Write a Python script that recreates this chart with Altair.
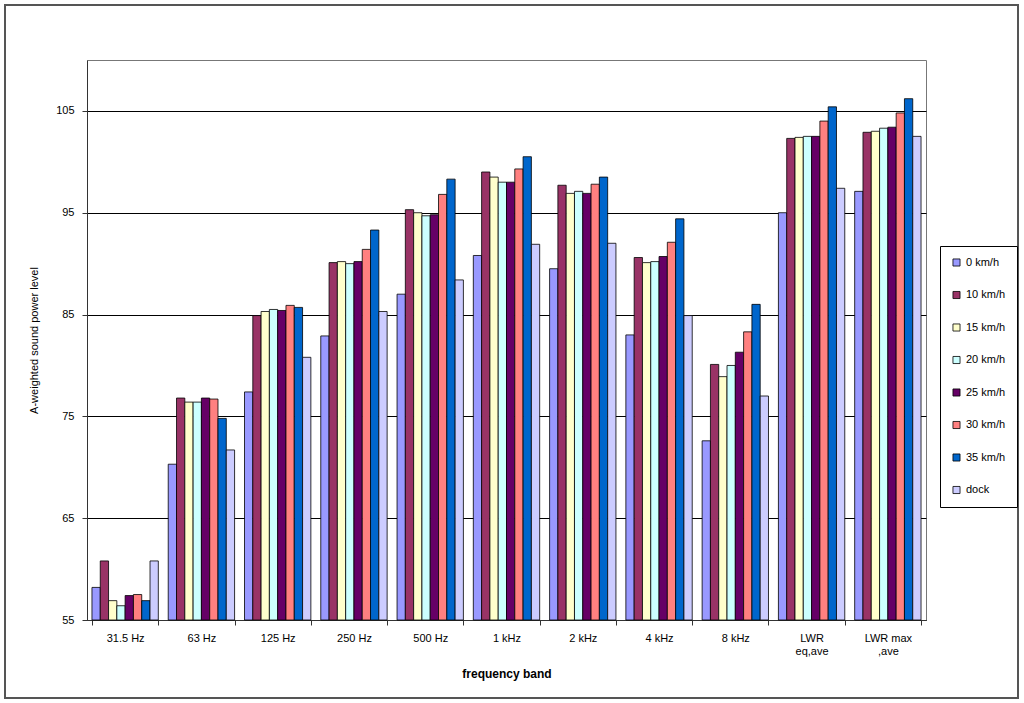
import altair as alt
import pandas as pd

categories = ["31.5 Hz", "63 Hz", "125 Hz", "250 Hz", "500 Hz", "1 kHz", "2 kHz",
              "4 kHz", "8 kHz", "LWR eq,ave", "LWR max,ave"]
series = ["0 km/h", "10 km/h", "15 km/h", "20 km/h", "25 km/h", "30 km/h", "35 km/h", "dock"]
colors = ["#9999FF", "#993366", "#FFFFCC", "#CCFFFF", "#660066", "#FF8080", "#0066CC", "#CCCCFF"]

v_0 = [58.2, 70.3, 77.4, 82.9, 87.0, 90.8, 89.5, 83.0, 72.6, 95.0, 97.1]
v_10 = [60.8, 76.8, 84.9, 90.1, 95.3, 99.0, 97.7, 90.6, 80.1, 102.3, 102.9]
v_15 = [56.9, 76.4, 85.3, 90.2, 95.0, 98.5, 96.9, 90.1, 78.9, 102.4, 103.0]
v_20 = [56.4, 76.4, 85.5, 90.0, 94.7, 98.0, 97.1, 90.2, 80.0, 102.5, 103.3]
v_25 = [57.4, 76.8, 85.4, 90.2, 94.8, 98.0, 96.9, 90.7, 81.3, 102.5, 103.4]
v_30 = [57.5, 76.7, 85.9, 91.4, 96.8, 99.3, 97.8, 92.1, 83.3, 104.0, 104.8]
v_35 = [56.9, 74.8, 85.7, 93.3, 98.3, 100.5, 98.5, 94.4, 86.0, 105.4, 106.2]
v_dock = [60.8, 71.7, 80.8, 85.3, 88.4, 91.9, 92.0, 84.9, 77.0, 97.4, 102.5]

y_ticks = [55, 65, 75, 85, 95, 105]

all_vals = [v_0, v_10, v_15, v_20, v_25, v_30, v_35, v_dock]
rows = []
for s, vals in zip(series, all_vals):
    for c, v in zip(categories, vals):
        rows.append({"band": c, "series": s, "value": v})
df = pd.DataFrame(rows)

FONT = "Liberation Sans"

label_expr = ("datum.value == 'LWR eq,ave' ? ['LWR', 'eq,ave'] : "
              "datum.value == 'LWR max,ave' ? ['LWR max', ',ave'] : datum.label")

bars = alt.Chart(df).mark_bar(stroke="#000000", strokeWidth=0.8).encode(
    x=alt.X("band:N", sort=categories,
            scale=alt.Scale(paddingInner=0.13, paddingOuter=0.065),
            axis=alt.Axis(title="frequency band", labelAngle=0, tickBand="extent",
                          labelExpr=label_expr, labelFont=FONT, labelFontSize=11,
                          labelColor="#000", labelPadding=7, tickSize=5,
                          tickColor="#333", domainColor="#333",
                          titleFont=FONT, titleFontSize=12, titleFontWeight="bold",
                          titleColor="#000", titlePadding=12)),
    xOffset=alt.XOffset("series:N", sort=series, scale=alt.Scale(paddingInner=0, paddingOuter=0)),
    y=alt.Y("value:Q",
            scale=alt.Scale(domain=[55, 110], nice=False, zero=False),
            axis=alt.Axis(title="A-weighted sound power level", values=y_ticks,
                          grid=True, gridColor="#000", gridWidth=1,
                          labelFont=FONT, labelFontSize=11, labelColor="#000",
                          labelPadding=8, tickSize=5, tickColor="#333",
                          domainColor="#333", titleFont=FONT, titleFontSize=11,
                          titleFontWeight="normal", titleColor="#000", titlePadding=16)),
    y2=alt.datum(55),
    color=alt.Color("series:N", sort=series,
                    scale=alt.Scale(domain=series, range=colors),
                    legend=alt.Legend(title=None, orient="none", legendX=853, legendY=186,
                                      symbolType="square", symbolSize=50,
                                      symbolStrokeColor="#000", symbolStrokeWidth=0.8,
                                      labelFont=FONT, labelFontSize=11, labelColor="#000",
                                      rowPadding=20.5, padding=11, strokeColor="#000",
                                      fillColor="#fff", labelOffset=4)),
)

frame = alt.Chart(pd.DataFrame({"a": [0]})).mark_rect(
    fill=None, stroke="#555", strokeWidth=2
).encode(x=alt.value(-82), x2=alt.value(931), y=alt.value(-55), y2=alt.value(638))

chart = alt.layer(frame, bars).properties(
    width=839, height=560,
    autosize=alt.AutoSizeParams(type="none"),
    padding={"left": 87, "top": 60, "right": 98, "bottom": 83},
    background="#ffffff",
).configure_view(stroke="#777", strokeWidth=1)

chart.save("out.html", embed_options={"renderer": "svg", "actions": False})
